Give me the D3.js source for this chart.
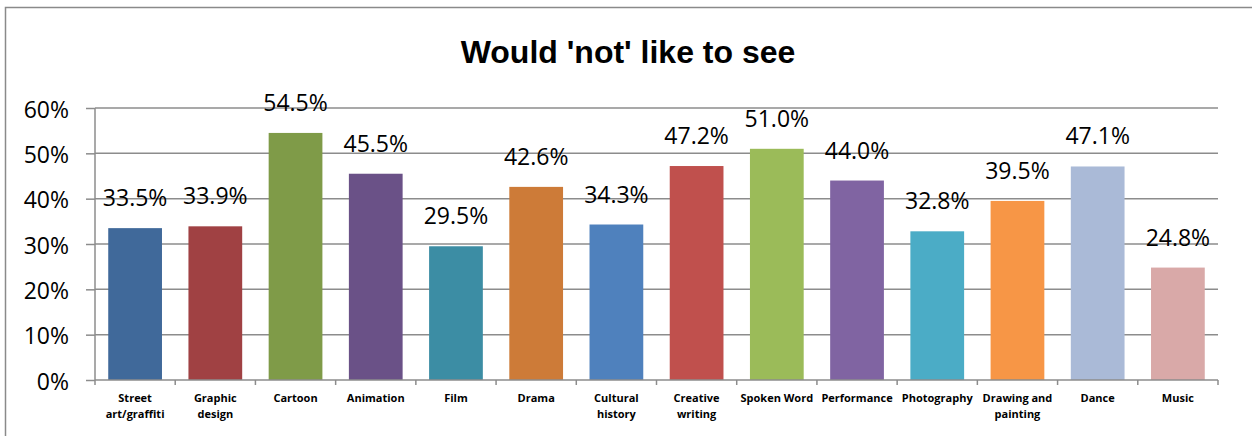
<!DOCTYPE html>
<html>
<head>
<meta charset="utf-8">
<script src="https://cdn.jsdelivr.net/npm/d3@7"></script>
<style>
  html, body { margin: 0; padding: 0; background: #fff; }
  svg { display: block; }
</style>
</head>
<body>
<script>
// Share of respondents who would 'not' like to see each art form
const categories = [
  ["Street", "art/graffiti"], ["Graphic", "design"], ["Cartoon"], ["Animation"], ["Film"],
  ["Drama"], ["Cultural", "history"], ["Creative", "writing"], ["Spoken Word"], ["Performance"],
  ["Photography"], ["Drawing and", "painting"], ["Dance"], ["Music"]
];
const values = [33.5, 33.9, 54.5, 45.5, 29.5, 42.6, 34.3, 47.2, 51.0, 44.0, 32.8, 39.5, 47.1, 24.8];
const barColors = [
  "#40699A", "#A04143", "#7F9B48", "#6A5187", "#3C8DA4", "#CD7B38", "#4F81BD",
  "#C0504D", "#9BBB59", "#8064A2", "#4BACC6", "#F79646", "#AABAD7", "#D9A9A8"
];
const yTicks = [0, 10, 20, 30, 40, 50, 60];
const title = "Would 'not' like to see";

const W = 1252, H = 436;
const plotLeft = 95, plotRight = 1218, plotTop = 108, plotBottom = 380;

const svg = d3.select("body").append("svg").attr("width", W).attr("height", H);

// outer chart frame (left and top edges visible)
svg.append("path")
  .attr("d", `M5.5,${H} V7.5 H${W + 2}`)
  .attr("fill", "none").attr("stroke", "#8a8a8a").attr("stroke-width", 1.5);

svg.append("text")
  .attr("x", 628).attr("y", 63)
  .attr("text-anchor", "middle")
  .attr("font-family", "Liberation Sans, Arial, sans-serif")
  .attr("font-weight", "bold").attr("font-size", 32)
  .text(title);

const x = d3.scaleBand().domain(d3.range(values.length)).range([plotLeft, plotRight]).padding(0);
const y = d3.scaleLinear().domain([0, 60]).range([plotBottom, plotTop]);

// horizontal gridlines
svg.append("g").selectAll("line").data(yTicks.filter(d => d > 0)).join("line")
  .attr("x1", plotLeft).attr("x2", plotRight)
  .attr("y1", d => y(d)).attr("y2", d => y(d))
  .attr("stroke", "#8c8c8c").attr("stroke-width", 1.5);

// y axis
const yAxis = svg.append("g").attr("transform", `translate(${plotLeft},0)`)
  .call(d3.axisLeft(y).tickValues(yTicks).tickSize(9).tickPadding(17).tickFormat(d => d + "%"));
yAxis.select(".domain").attr("stroke", "#8c8c8c").attr("stroke-width", 1.5).attr("d", `M0,${plotTop}V${plotBottom}`);
yAxis.selectAll(".tick line").attr("stroke", "#8c8c8c").attr("stroke-width", 1.5);
yAxis.selectAll(".tick text")
  .attr("font-family", "Open Sans, Liberation Sans, sans-serif")
  .attr("font-size", 23).attr("fill", "#000").attr("dy", "0.4em");

// bars
const barW = x.bandwidth() * 0.67;
svg.append("g").selectAll("rect").data(values).join("rect")
  .attr("x", (d, i) => x(i) + (x.bandwidth() - barW) / 2)
  .attr("y", d => y(d))
  .attr("width", barW)
  .attr("height", d => plotBottom - y(d))
  .attr("fill", (d, i) => barColors[i]);

// x axis with tick marks at category boundaries
svg.append("line")
  .attr("x1", plotLeft).attr("x2", plotRight).attr("y1", plotBottom).attr("y2", plotBottom)
  .attr("stroke", "#8c8c8c").attr("stroke-width", 1.5);
svg.append("g").selectAll("line").data(d3.range(values.length + 1)).join("line")
  .attr("x1", i => plotLeft + i * x.step()).attr("x2", i => plotLeft + i * x.step())
  .attr("y1", plotBottom).attr("y2", plotBottom + 5)
  .attr("stroke", "#8c8c8c").attr("stroke-width", 1.5);

// category labels
const cat = svg.append("g").selectAll("text").data(categories).join("text")
  .attr("x", (d, i) => x(i) + x.bandwidth() / 2)
  .attr("y", 402)
  .attr("text-anchor", "middle")
  .attr("font-family", "Open Sans, Liberation Sans, sans-serif")
  .attr("font-weight", "bold").attr("font-size", 11).attr("fill", "#000");
cat.selectAll("tspan").data((d, i) => d.map(s => ({ s, i }))).join("tspan")
  .attr("x", d => x(d.i) + x.bandwidth() / 2)
  .attr("dy", (d, j) => j === 0 ? 0 : 16)
  .text(d => d.s);

// value labels
svg.append("g").selectAll("text").data(values).join("text")
  .attr("x", (d, i) => x(i) + x.bandwidth() / 2)
  .attr("y", d => y(d) - 22)
  .attr("text-anchor", "middle")
  .attr("font-family", "Open Sans, Liberation Sans, sans-serif")
  .attr("font-size", 23).attr("fill", "#000")
  .text(d => d.toFixed(1) + "%");
</script>
</body>
</html>
